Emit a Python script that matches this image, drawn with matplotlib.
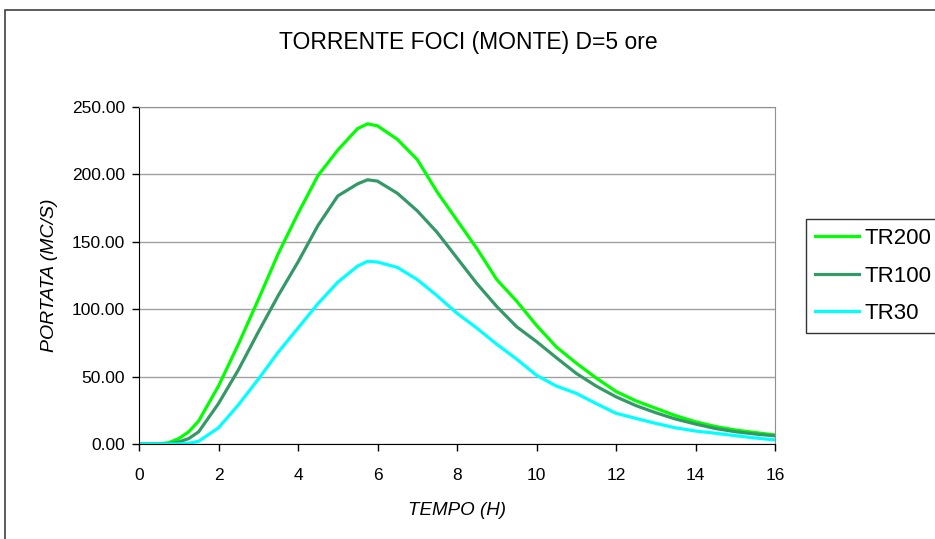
import matplotlib.pyplot as plt
from matplotlib.patches import Rectangle
from matplotlib.ticker import FormatStrFormatter

plt.rcParams['font.family'] = ['Liberation Sans', 'DejaVu Sans']

# tempo (ore) e portate
t = [0, 0.5, 0.75, 1, 1.25, 1.5, 2, 2.5, 3, 3.5, 4, 4.5, 5, 5.5, 5.75, 6, 6.5, 7,
     7.5, 8, 8.5, 9, 9.5, 10, 10.5, 11, 11.5, 12, 12.5, 13, 13.5, 14, 14.5, 15, 15.5, 16]
tr200 = [0, 0, 1, 4, 9, 17, 43, 74, 107, 141, 171, 199, 218, 234, 237.5, 236, 226, 211,
         187, 166, 145, 122, 106, 88, 72, 60, 49, 39, 32, 26.5, 21, 16.5, 13, 10.4, 8.5, 6.7]
tr100 = [0, 0, 0.3, 1.5, 4, 9, 30, 55, 83, 110, 135, 162, 184, 193, 196, 195, 186, 173,
         157, 138, 119, 102, 87, 76, 64, 52.4, 43, 35, 28.5, 23.2, 18.5, 14.8, 11.5, 9.1, 7.4, 6]
tr30 = [0, 0, 0, 0, 0.5, 2, 12, 29, 48, 68, 86, 104, 120, 132, 135.5, 135, 131, 122,
        110, 97, 86, 74, 63, 51, 43, 37.6, 30, 22.8, 19, 15.3, 12, 9.6, 8, 6.2, 4.5, 3]

series = [('TR200', tr200, '#00FF00'), ('TR100', tr100, '#339966'), ('TR30', tr30, '#00FFFF')]

fig = plt.figure(figsize=(9.35, 5.39), dpi=100)
fig.patches.append(Rectangle((5 / 935, -0.1), 1.2, 1 - 10 / 539 + 0.1, transform=fig.transFigure,
                             fill=False, edgecolor='#404040', linewidth=1.2))

ax = fig.add_axes([139 / 935, 1 - 444 / 539, (775 - 139) / 935, (444 - 107) / 539])
for name, vals, col in series:
    ax.plot(t, vals, color=col, linewidth=2.3, label=name)

ax.set_xlim(0, 16)
ax.set_ylim(0, 250)
ax.set_xticks(range(0, 17, 2))
ax.set_yticks(range(0, 251, 50))
ax.yaxis.set_major_formatter(FormatStrFormatter('%.2f'))
ax.grid(axis='y', color='#a0a0a0', linewidth=1)
ax.set_axisbelow(True)
ax.tick_params(direction='out', length=5, width=1, labelsize=12.5)
ax.tick_params(axis='x', pad=12)
ax.tick_params(axis='y', pad=5)
ax.spines['left'].set_color('black')
ax.spines['bottom'].set_color('black')
ax.spines['right'].set_color('#909090')
ax.spines['top'].set_color('#909090')

ax.set_xlabel('TEMPO (H)', fontsize=13.5, style='italic', labelpad=14)
ax.set_ylabel('PORTATA (MC/S)', fontsize=14, style='italic', labelpad=10)
fig.text(468 / 935, 1 - 42 / 539, 'TORRENTE FOCI (MONTE) D=5 ore', ha='center', va='center', fontsize=16.5)

leg = ax.legend(loc='upper left', bbox_to_anchor=(806 / 935, 1 - 219 / 539), bbox_transform=fig.transFigure,
                fontsize=16, frameon=True, fancybox=False, edgecolor='black', handlelength=2.0,
                handletextpad=0.25, borderpad=0.4, labelspacing=0.75, borderaxespad=0)
leg.get_frame().set_linewidth(1)

fig.savefig('out.png', dpi=100)
